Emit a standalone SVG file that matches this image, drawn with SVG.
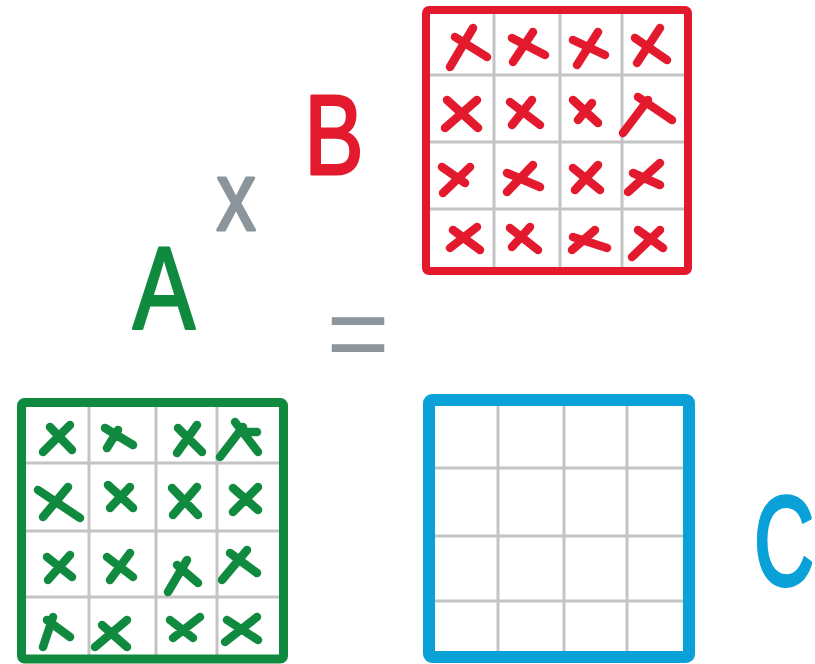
<svg xmlns="http://www.w3.org/2000/svg" width="815" height="664" viewBox="0 0 815 664">
<style>
.grid{stroke:#c4c4c4;stroke-width:3;fill:none}
.bd{fill:none;stroke-linejoin:round}
.mk{fill:none;stroke-width:8.5;stroke-linecap:round;stroke-linejoin:round}
.red{stroke:#e31a2d}
.green{stroke:#0f8a3f}
.blue{stroke:#0aa0d8}
.lbl{font-family:"Liberation Sans",Arial,sans-serif;stroke-linejoin:round;stroke-linecap:round}
</style>
<rect width="815" height="664" fill="#ffffff"/>

<g id="matrix-b">
  <path class="grid" d="M494 14V267M560 14V267M622 14V267M430 75H684M430 142H684M430 209H684"/>
  <rect class="bd red" x="426" y="10" width="262" height="261" rx="3" stroke-width="8"/>
  <path class="mk red" d="M450 67L473 28M455 37L487 57
    M513 62L533 32M512 38L545 55
    M577 65L598 32M573 40L605 55
    M637 63L660 28M635 38L667 60
    M445 128L477 100M447 100L478 128
    M512 125L532 100M510 102L540 125
    M578 120L592 103M573 100L598 123
    M623 133L648 100M638 97L672 120
    M443 193L470 167M442 167L465 183
    M507 192L533 165M507 173L540 187
    M575 190L598 165M573 168L600 190
    M628 192L660 163M633 173L660 185
    M450 248L477 227M453 230L480 250
    M512 247L530 227M510 228L538 250
    M572 250L595 230M573 237L607 248
    M632 257L660 230M638 230L663 248"/>
</g>

<g id="matrix-a">
  <path class="grid" d="M89 407V655M156 407V655M217 407V655M26 463H279M26 531H279M26 597H279"/>
  <rect class="bd green" x="21.5" y="402.5" width="262" height="256.5" rx="3" stroke-width="9"/>
  <path class="mk green" d="M43 452L70 425M50 427L72 450
    M107 448L118 430M105 428L133 445
    M177 453L197 425M178 428L202 452
    M220 457L243 427M235 422L258 452M242 432L257 432
    M43 517L68 487M38 490L80 518
    M110 508L130 487M108 485L133 508
    M173 515L197 487M172 488L198 515
    M233 512L258 487M233 488L258 510
    M48 580L70 555M47 557L72 577
    M110 580L130 553M107 557L133 577
    M168 592L187 560M177 565L198 583
    M222 580L247 550M230 553L257 573
    M43 647L53 617M47 620L70 637
    M95 647L127 620M102 625L127 647
    M173 638L200 617M170 620L193 638
    M225 642L257 617M227 620L258 640"/>
</g>

<g id="matrix-c">
  <path d="M692 404V660" stroke="#dadada" stroke-width="5" fill="none"/>
  <path class="grid" d="M498 400V657M564 400V657M627 400V657M429 468H689M429 536H689M429 601H689"/>
  <rect class="bd blue" x="429" y="400" width="260" height="257" rx="3" stroke-width="12"/>
</g>

<g id="label-a">
  <text class="lbl" transform="translate(164,329) scale(0.8,1)" text-anchor="middle" font-size="116" fill="#0f8a3f" stroke="#0f8a3f" stroke-width="3">A</text>
</g>
<g id="label-b">
  <text class="lbl" transform="translate(334,174) scale(0.78,1)" text-anchor="middle" font-size="114" fill="#e31a2d" stroke="#e31a2d" stroke-width="3">B</text>
</g>
<g id="label-c">
  <text class="lbl" transform="translate(754,585) scale(0.66,1)" font-size="126" fill="#0aa0d8" stroke="#0aa0d8" stroke-width="4">C</text>
</g>
<g id="op-times">
  <text class="lbl" transform="translate(236,230) scale(0.8,1)" text-anchor="middle" font-size="98" fill="#8b959b" stroke="#8b959b" stroke-width="3">x</text>
</g>
<g id="op-equals">
  <text class="lbl" x="358" y="370" text-anchor="middle" font-size="108" fill="#8b959b">=</text>
</g>
<g id="connectors"/>
</svg>
